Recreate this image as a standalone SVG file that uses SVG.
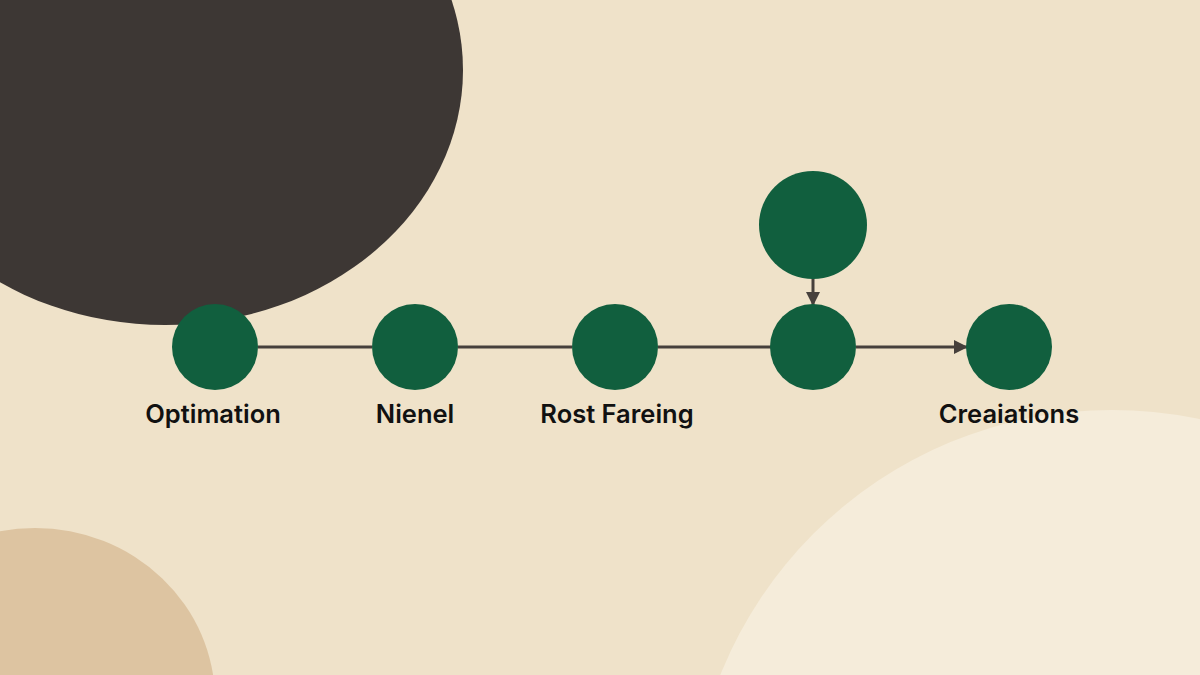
<svg xmlns="http://www.w3.org/2000/svg" width="1200" height="675" viewBox="0 0 1200 675">
  <defs>
    <marker id="arrow" viewBox="0 0 14 14" refX="13" refY="7" markerWidth="14" markerHeight="14" markerUnits="userSpaceOnUse" orient="auto">
      <path d="M0,0 L14,7 L0,14 Z" fill="#46403c"/>
    </marker>
    <style>
      .node { fill: #115f3e; }
      .edge { stroke: #46403c; stroke-width: 3; fill: none; }
      .label { font-family: Inter, "Liberation Sans", sans-serif; font-weight: 600; font-size: 25.5px; fill: #111111; text-anchor: middle; }
    </style>
  </defs>
  <rect width="1200" height="675" fill="#efe2c9"/>
  <g id="background">
    <ellipse cx="165" cy="70" rx="298" ry="255" fill="#3d3734"/>
    <ellipse cx="35" cy="700" rx="180" ry="172" fill="#ddc4a1"/>
    <circle cx="1112" cy="832" r="422" fill="#f5ecda"/>
  </g>
  <g id="connectors">
    <line class="edge" x1="258" y1="347" x2="372" y2="347"/>
    <line class="edge" x1="458" y1="347" x2="572" y2="347"/>
    <line class="edge" x1="658" y1="347" x2="771" y2="347"/>
    <line class="edge" x1="856" y1="347" x2="967" y2="347" marker-end="url(#arrow)"/>
    <line class="edge" x1="813" y1="278" x2="813" y2="305" marker-end="url(#arrow)"/>
  </g>
  <g id="node-top">
    <circle class="node" cx="813" cy="225" r="54"/>
  </g>
  <g id="node-optimation">
    <circle class="node" cx="215" cy="347" r="43"/>
    <text class="label" x="213" y="423">Optimation</text>
  </g>
  <g id="node-nienel">
    <circle class="node" cx="415" cy="347" r="43"/>
    <text class="label" x="415" y="423">Nienel</text>
  </g>
  <g id="node-rost-fareing">
    <circle class="node" cx="615" cy="347" r="43"/>
    <text class="label" x="617" y="423">Rost Fareing</text>
  </g>
  <g id="node-merge">
    <circle class="node" cx="813" cy="347" r="43"/>
  </g>
  <g id="node-creaiations">
    <circle class="node" cx="1009" cy="347" r="43"/>
    <text class="label" x="1009" y="423">Creaiations</text>
  </g>
</svg>
